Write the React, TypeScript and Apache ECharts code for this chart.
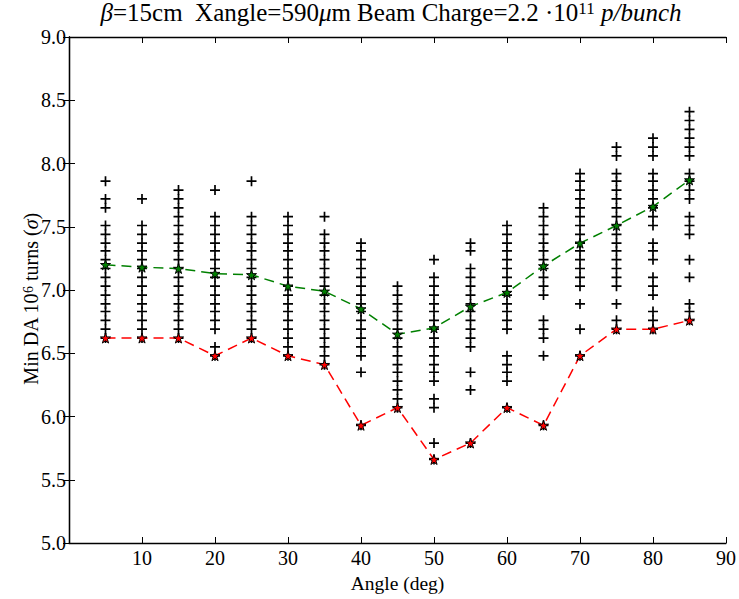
import React, { useEffect, useRef } from "react";
import * as echarts from "echarts";

const angles = [5, 10, 15, 20, 25, 30, 35, 40, 45, 50, 55, 60, 65, 70, 75, 80, 85];
const meanDA = [7.2, 7.18, 7.17, 7.13, 7.12, 7.03, 6.99, 6.85, 6.65, 6.7, 6.87, 6.98, 7.19, 7.37, 7.51, 7.66, 7.87];
const minDA = [6.62, 6.62, 6.62, 6.48, 6.62, 6.48, 6.41, 5.93, 6.07, 5.66, 5.79, 6.07, 5.93, 6.48, 6.69, 6.69, 6.76];

const s5 = [7.86, 7.72, 7.65, 7.51, 7.44, 7.37, 7.31, 7.24, 7.17, 7.1, 7.03, 6.96, 6.89, 6.83, 6.76, 6.69, 6.62];
const s10 = [7.72, 7.51, 7.44, 7.37, 7.31, 7.24, 7.17, 7.1, 7.03, 6.96, 6.89, 6.83, 6.76, 6.69, 6.62];
const s15 = [7.79, 7.72, 7.65, 7.58, 7.51, 7.44, 7.37, 7.31, 7.24, 7.17, 7.1, 7.03, 6.96, 6.89, 6.83, 6.76, 6.69, 6.62];
const s20 = [7.79, 7.58, 7.51, 7.44, 7.37, 7.31, 7.24, 7.17, 7.1, 7.03, 6.96, 6.89, 6.83, 6.76, 6.69, 6.55, 6.48];
const s25 = [7.86, 7.58, 7.51, 7.44, 7.37, 7.31, 7.24, 7.17, 7.1, 7.03, 6.96, 6.89, 6.83, 6.76, 6.69, 6.62];
const s30 = [7.58, 7.51, 7.44, 7.37, 7.31, 7.24, 7.17, 7.1, 7.03, 6.96, 6.89, 6.83, 6.76, 6.69, 6.62, 6.55, 6.48];
const s35 = [7.58, 7.44, 7.37, 7.31, 7.24, 7.17, 7.1, 7.03, 6.96, 6.89, 6.83, 6.76, 6.69, 6.62, 6.55, 6.48, 6.41];
const s40 = [7.37, 7.31, 7.24, 7.17, 7.1, 7.03, 6.96, 6.89, 6.83, 6.76, 6.69, 6.62, 6.55, 6.48, 6.35, 5.93];
const s45 = [7.03, 6.96, 6.89, 6.83, 6.76, 6.69, 6.62, 6.55, 6.48, 6.41, 6.35, 6.28, 6.21, 6.14, 6.07];
const s50 = [7.24, 7.1, 7.03, 6.96, 6.89, 6.83, 6.76, 6.69, 6.62, 6.55, 6.48, 6.41, 6.35, 6.28, 6.14, 6.07, 5.79, 5.66];
const s55 = [7.37, 7.31, 7.17, 7.1, 7.03, 6.96, 6.89, 6.83, 6.76, 6.69, 6.62, 6.55, 6.35, 6.21, 5.79];
const s60 = [7.51, 7.44, 7.37, 7.31, 7.24, 7.17, 7.1, 7.03, 6.96, 6.89, 6.83, 6.76, 6.69, 6.48, 6.41, 6.35, 6.28, 6.07];
const s65 = [7.65, 7.58, 7.51, 7.44, 7.37, 7.31, 7.24, 7.17, 7.1, 7.03, 6.96, 6.76, 6.69, 6.62, 6.48, 5.93];
const s70 = [7.92, 7.86, 7.79, 7.72, 7.65, 7.58, 7.51, 7.44, 7.37, 7.31, 7.24, 7.17, 7.1, 7.03, 6.89, 6.69, 6.48];
const s75 = [8.13, 8.06, 7.92, 7.86, 7.79, 7.72, 7.65, 7.58, 7.51, 7.44, 7.37, 7.31, 7.24, 7.17, 7.1, 7.03, 6.89, 6.76, 6.69];
const s80 = [8.2, 8.13, 8.06, 7.92, 7.86, 7.79, 7.72, 7.65, 7.58, 7.51, 7.37, 7.31, 7.24, 7.1, 7.03, 6.96, 6.83, 6.76, 6.69];
const s85 = [8.41, 8.34, 8.27, 8.2, 8.13, 8.06, 7.92, 7.86, 7.79, 7.72, 7.58, 7.51, 7.44, 7.24, 7.1, 6.89, 6.83, 6.76];

const samples = [s5, s10, s15, s20, s25, s30, s35, s40, s45, s50, s55, s60, s65, s70, s75, s80, s85];

const xTicks = [10, 20, 30, 40, 50, 60, 70, 80, 90];

const FONT = "'Liberation Serif', 'Times New Roman', serif";
const PLUS = "path://M4.15,0h1.7v4.15h4.15v1.7h-4.15v4.15h-1.7v-4.15h-4.15v-1.7h4.15z";
const STAR =
  "path://M50,2L60.76,35.19L95.65,35.17L67.4,55.65L78.2,88.8L50,68.3L21.8,88.8L32.6,55.65L4.35,35.17L39.24,35.19Z";

export default function App() {
  const ref = useRef<HTMLDivElement>(null);
  useEffect(() => {
    if (!ref.current) return;
    const chart = echarts.init(ref.current, undefined, { renderer: "svg" });
    const scatterData: number[][] = [];
    angles.forEach((a, i) => samples[i].forEach((v) => scatterData.push([a, v])));
    const axisLine = { show: true, lineStyle: { color: "#000", width: 1.3 } };
    const tick = { show: true, inside: true, length: 6, lineStyle: { color: "#000", width: 1 } };
    const labelStyle = { color: "#000", fontFamily: FONT, fontSize: 20 };
    chart.setOption({
      animation: false,
      backgroundColor: "#fff",
      grid: { left: 69, right: 12, top: 37, bottom: 56, containLabel: false },
      graphic: [
        {
          type: "text",
          x: 391,
          y: 0,
          style: {
            text: "{i|β}=15cm  Xangle=590{i|μ}m Beam Charge=2.2 ·10{sup|11} {i|p/bunch}",
            fontFamily: FONT,
            fontSize: 25,
            fill: "#000",
            textAlign: "center",
            textVerticalAlign: "top",
            rich: {
              i: { fontFamily: FONT, fontSize: 25, fontStyle: "italic", fill: "#000" },
              sup: { fontFamily: FONT, fontSize: 17, verticalAlign: "top", fill: "#000" },
            },
          },
        },
        {
          type: "text",
          x: 31,
          y: 299,
          rotation: Math.PI / 2,
          style: {
            text: "Min DA 10{sup|6} turns ({i|σ})",
            fontFamily: FONT,
            fontSize: 20,
            fill: "#000",
            textAlign: "center",
            textVerticalAlign: "middle",
            rich: {
              sup: { fontFamily: FONT, fontSize: 14, verticalAlign: "top", fill: "#000" },
              i: { fontFamily: FONT, fontSize: 20, fontStyle: "italic", fill: "#000" },
            },
          },
        },
      ],
      xAxis: [
        {
          type: "value",
          min: 0,
          max: 90,
          interval: 10,
          position: "bottom",
          axisLine,
          axisTick: tick,
          splitLine: { show: false },
          axisLabel: {
            ...labelStyle,
            margin: 5,
            formatter: (v: number) => (xTicks.includes(v) ? String(v) : ""),
          },
          name: "Angle (deg)",
          nameLocation: "middle",
          nameGap: 30,
          nameTextStyle: { ...labelStyle, fontSize: 19.5 },
        },
        {
          type: "value",
          min: 0,
          max: 90,
          interval: 10,
          position: "top",
          axisLine,
          axisTick: tick,
          splitLine: { show: false },
          axisLabel: { show: false },
        },
      ],
      yAxis: [
        {
          type: "value",
          min: 5,
          max: 9,
          interval: 0.5,
          position: "left",
          axisLine,
          axisTick: tick,
          splitLine: { show: false },
          axisLabel: { ...labelStyle, margin: 3, formatter: (v: number) => v.toFixed(1) },
        },
        {
          type: "value",
          min: 5,
          max: 9,
          interval: 0.5,
          position: "right",
          axisLine,
          axisTick: tick,
          splitLine: { show: false },
          axisLabel: { show: false },
        },
      ],
      series: [
        {
          type: "scatter",
          data: scatterData,
          symbol: PLUS,
          symbolSize: 10,
          itemStyle: { color: "#000", opacity: 1 },
          z: 2,
          silent: true,
        },
        {
          type: "line",
          data: angles.map((a, i) => [a, meanDA[i]]),
          lineStyle: { color: "#008000", width: 1.5, type: [10, 6] },
          symbol: STAR,
          symbolSize: 10,
          showSymbol: true,
          itemStyle: { color: "#008000", borderColor: "#000", borderWidth: 1 },
          z: 3,
        },
        {
          type: "line",
          data: angles.map((a, i) => [a, minDA[i]]),
          lineStyle: { color: "#ff0000", width: 1.5, type: [10, 6] },
          symbol: STAR,
          symbolSize: 10,
          showSymbol: true,
          itemStyle: { color: "#ff0000", borderColor: "#000", borderWidth: 1 },
          z: 4,
        },
      ],
    });
    return () => chart.dispose();
  }, []);
  return (
    <div
      ref={ref}
      style={{ position: "absolute", left: 0, top: 0, width: 739, height: 599, background: "#fff" }}
    />
  );
}
